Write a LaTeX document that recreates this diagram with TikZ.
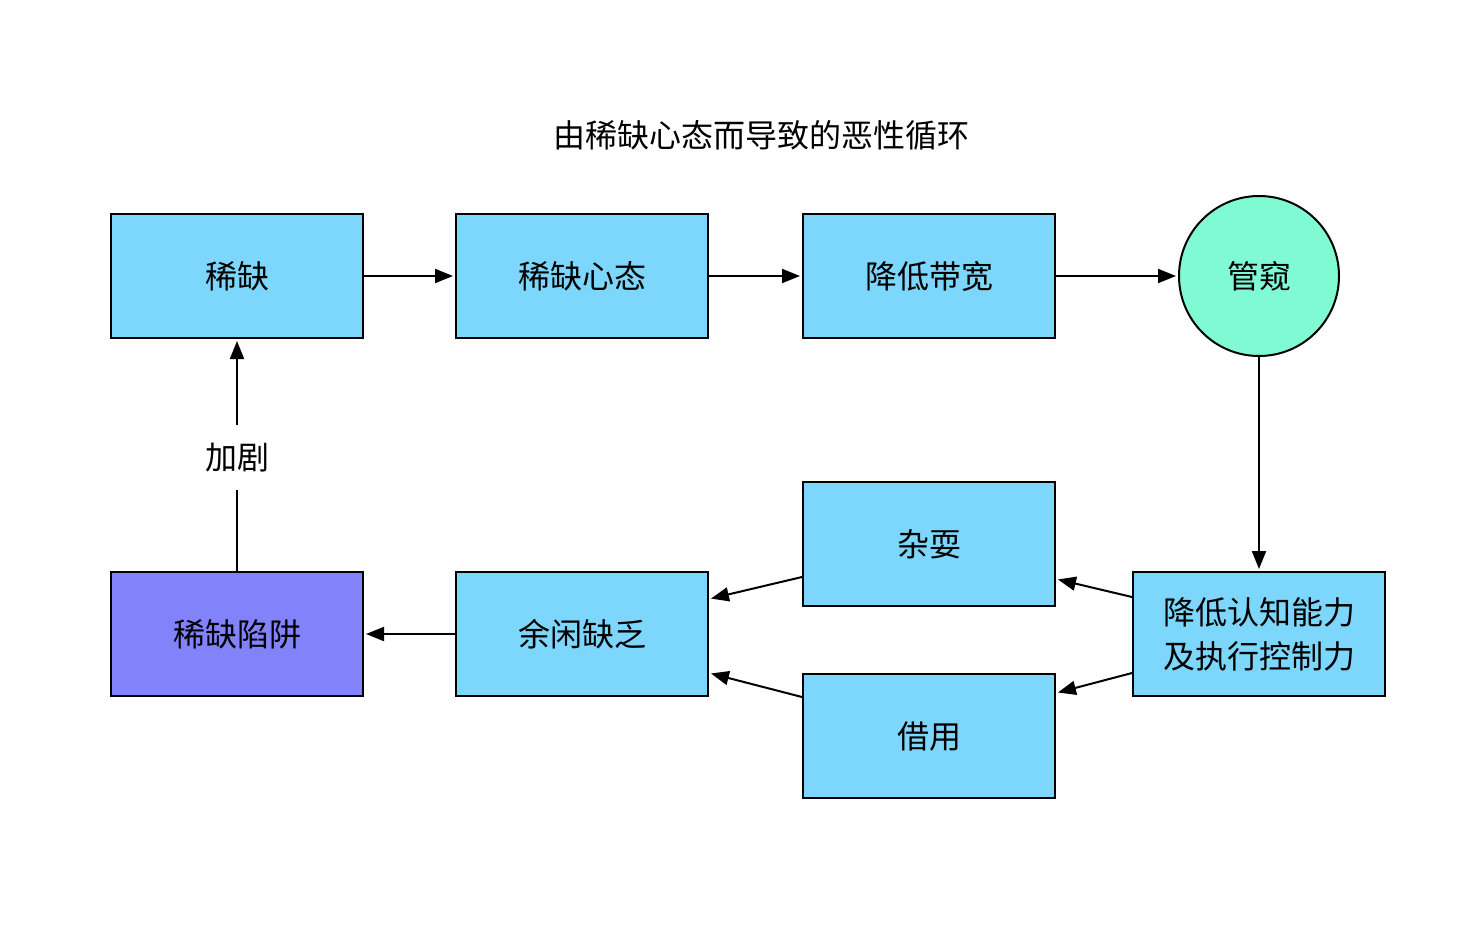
\documentclass[tikz,border=0pt]{standalone}
\usepackage{fontspec}
\setmainfont{Noto Sans CJK SC}
\usetikzlibrary{arrows.meta,calc}
\definecolor{boxblue}{HTML}{7DD6FB}
\definecolor{circgreen}{HTML}{7FFAD3}
\definecolor{trappurple}{HTML}{8282FA}
\tikzset{
  box/.style={draw=black, line width=1pt, fill=boxblue, minimum width=126pt, minimum height=62pt, inner sep=0pt, font=\fontsize{16}{20}\selectfont, align=center},
  circ/.style={draw=black, line width=1pt, fill=circgreen, circle, minimum size=80pt, inner sep=0pt, font=\fontsize{16}{20}\selectfont},
  conn/.style={line width=1pt, -{Triangle[length=9pt,width=7pt]}, shorten >=1pt},
}
\begin{document}
\begin{tikzpicture}[x=0.5pt,y=-0.5pt]
\useasboundingbox (0,0) rectangle (1462,932);
\node[font=\fontsize{16}{20}\selectfont] (title) at (761,135) {由稀缺心态而导致的恶性循环};
\node[box] (a) at (237,276) {稀缺};
\node[box] (b) at (582,276) {稀缺心态};
\node[box] (c) at (929,276) {降低带宽};
\node[circ] (d) at (1259,276) {管窥};
\node[box] (e) at (1259,634) {降低认知能力\\[2pt]及执行控制力};
\node[box] (f) at (929,544) {杂耍};
\node[box] (g) at (929,736) {借用};
\node[box] (h) at (582,634) {余闲缺乏};
\node[box, fill=trappurple] (i) at (237,634) {稀缺陷阱};
\draw[conn] (a) -- (b);
\draw[conn] (b) -- (c);
\draw[conn] (c) -- (d);
\draw[conn] (d) -- (e);
\coordinate (e1) at ($(e.north west)+(0,26)$);
\coordinate (e2) at ($(e.south west)+(0,-24)$);
\coordinate (f1) at ($(f.south east)+(0,-28)$);
\coordinate (f2) at ($(f.south west)+(0,-30)$);
\coordinate (g1) at ($(g.north east)+(0,20)$);
\coordinate (g2) at ($(g.north west)+(0,24)$);
\coordinate (h1) at ($(h.north east)+(0,28)$);
\coordinate (h2) at ($(h.south east)+(0,-24)$);
\draw[conn] (e1) -- (f1);
\draw[conn] (e2) -- (g1);
\draw[conn] (f2) -- (h1);
\draw[conn] (g2) -- (h2);
\draw[conn] (h) -- (i);
\draw[conn] (i) -- node[pos=0.49, fill=white, font=\fontsize{16}{20}\selectfont, inner xsep=6pt, inner ysep=9pt] (lbl) {加剧} (a);
\end{tikzpicture}
\end{document}
